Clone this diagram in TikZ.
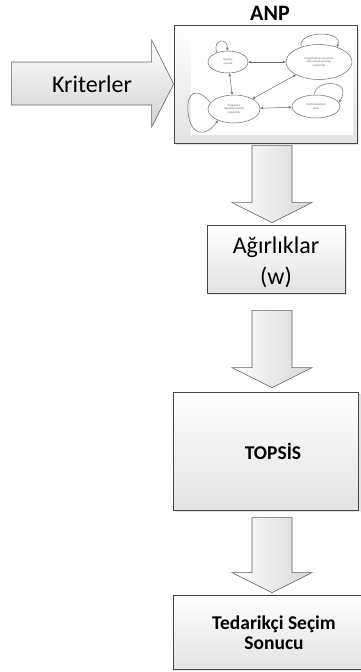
\documentclass[tikz,border=0pt]{standalone}
\usepackage{fontspec}
\setmainfont{Carlito}
\newfontfamily\netfont{Liberation Serif}
\usetikzlibrary{shadows,arrows.meta,shapes.geometric,calc}

\tikzset{
  flowbox/.style={rectangle, inner sep=0pt, top color=white, bottom color=black!11,
    draw=black!72, line width=0.7pt,
    drop shadow={opacity=0.22, shadow xshift=2pt, shadow yshift=-2pt}},
  blockarrow/.style={left color=white, right color=black!16, draw=black!62,
    line width=0.6pt, line join=miter},
  sidearrow/.style={top color=white, bottom color=black!18, draw=black!62,
    line width=0.6pt, line join=miter},
  net/.style={draw=black!58, line width=0.5pt},
  netnode/.style={net, ellipse, inner sep=0pt, text=black!60, align=center,
    font=\netfont\fontsize{3.2}{3.7}\selectfont},
  nettip/.tip={Stealth[length=3.2pt,width=2.6pt]},
  netlink/.style={net, nettip-nettip},
  netloop/.style={net, -nettip},
  bigtext/.style={font=\fontsize{24}{28}\selectfont, align=center},
  boldtext/.style={font=\bfseries\fontsize{19.5}{20}\selectfont, align=center},
}

% vertical block arrow: #1 = top of the shaft, #2 = tip
\newcommand{\flowarrow}[2]{%
  \path[blockarrow] let \p1=(#1), \p2=(#2) in
    (\x1-20pt,\y1) -- (\x1+20pt,\y1) -- (\x1+20pt,\y2+20pt) -- (\x1+40pt,\y2+20pt)
    -- (\x1,\y2) -- (\x1-40pt,\y2+20pt) -- (\x1-20pt,\y2+20pt) -- cycle;}

\begin{document}
\begin{tikzpicture}[x=1pt,y=-1pt]
\useasboundingbox (0,0) rectangle (361,672);

% main boxes
\node[flowbox, minimum width=183pt, minimum height=118pt] (anp) at (265.5,84) {};
\node[flowbox, minimum width=138pt, minimum height=68pt] (agr) at (276,259) {};
\node[flowbox, minimum width=185pt, minimum height=118pt] (topsis) at (266,451) {};
\node[flowbox, minimum width=188pt, minimum height=74pt] (result) at (267,632) {};

% box labels
\node[font=\bfseries\fontsize{22}{24}\selectfont, anchor=base, inner sep=0pt] (anptitle) at (270,20.5) {ANP};
\node[bigtext, inner sep=0pt] (agrlabel) at (276,262) {Ağırlıklar\\[3pt](w)};
\node[boldtext, inner sep=0pt] (topsislabel) at (273,451) {TOPSİS};
\node[boldtext, inner sep=0pt] (resultlabel) at (274,633) {Tedarikçi Seçim\\Sonucu};

% criteria arrow pointing into the ANP box
\path[sidearrow] (anp.west) -- ++(-22,-44) -- ++(0,22) -- ++(-140,0)
  -- ++(0,43) -- ++(140,0) -- ++(0,22) -- cycle;
\node[bigtext, inner sep=0pt] (krit) at (92,84) {Kriterler};

% flow arrows between the stages
\coordinate (ax) at (272,0);
\flowarrow{$(anp.south -| ax)+(0,2)$}{$(agr.north -| ax)+(0,-2)$}
\flowarrow{$(agr.south -| ax)+(0,17)$}{$(topsis.north -| ax)+(0,-4)$}
\flowarrow{$(topsis.south -| ax)+(0,7)$}{$(result.north -| ax)+(0,-2)$}

% ANP network sketch
\fill[white] (191,33) rectangle (353,135);
\node[netnode, minimum width=40pt, minimum height=22pt] (q) at (228,62) {Quality\\system};
\node[netnode, minimum width=66pt, minimum height=35pt] (o) at (319,62) {Organization structure\\and manufacturing\\capability};
\node[netnode, minimum width=52pt, minimum height=28pt] (s) at (234,109) {Supplier's\\implementation\\capability};
\node[netnode, minimum width=48pt, minimum height=23pt] (e) at (316,106.5) {Environmental\\issue};

\draw[netlink] (q) -- (o);
\draw[netlink] (q) -- (s);
\draw[netlink] (s) -- (o);
\draw[netlink] (s) -- (e);

\draw[netloop] (q.140) .. controls +(-5,-15) and +(2,-13) .. (q.95);
\draw[netloop] (o.140) .. controls (297,30) and (345,30) .. (o.40);
\draw[netloop] (e.100) .. controls (316,78) and (354,80) .. (e.10);
\draw[netloop] (s.165) .. controls (197,86) and (186,92) .. (188,112)
  .. controls (190,136) and (206,138) .. (s.215);
\end{tikzpicture}
\end{document}
